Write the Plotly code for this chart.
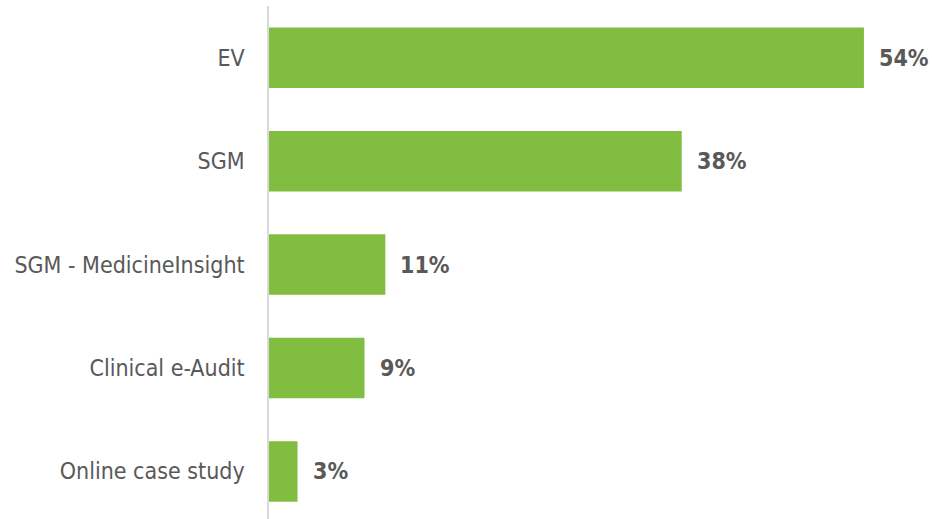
import plotly.graph_objects as go

categories = ["EV", "SGM", "SGM - MedicineInsight", "Clinical e-Audit", "Online case study"]
values = [54.2, 37.6, 10.6, 8.7, 2.6]
labels = [f"{v:.0f}%" for v in values]

COLOR_BAR = "#80BD41"
COLOR_FONT = "#595959"
COLOR_AXIS = "#D9D9D9"
FONT_FAMILY = "DejaVu Sans Condensed, Liberation Sans Narrow, Arial Narrow, sans-serif"
SIZE_TEXT = 23

fig = go.Figure()

fig.add_trace(go.Bar(
    x = values,
    y = categories,
    orientation = "h",
    marker = dict(color=COLOR_BAR, line=dict(width=0)),
    hoverinfo = "skip",
))

# Etiquetas de porcentaje a la derecha de cada barra
for cat, val, lab in zip(categories, values, labels):
    fig.add_annotation(
        x = val,
        y = cat,
        text = f"<b>{lab}</b>",
        xanchor = "left",
        xshift = 13,
        showarrow = False,
        font = dict(family=FONT_FAMILY, size=SIZE_TEXT, color=COLOR_FONT),
    )

fig.update_layout(
    width = 932,
    height = 519,
    bargap = 0.415,
    font = dict(family=FONT_FAMILY, size=SIZE_TEXT, color=COLOR_FONT),
    xaxis = dict(
        range = [0, 60.4],
        showticklabels = False,
        showgrid = False,
        zeroline = False,
        showline = False,
        automargin = False,
    ),
    yaxis = dict(
        categoryorder = "array",
        categoryarray = categories,
        range = [4.46, -0.5],
        showgrid = False,
        showline = True,
        linecolor = COLOR_AXIS,
        linewidth = 1.5,
        ticks = "",
        ticklabelstandoff = 18,
        automargin = False,
        tickfont = dict(family=FONT_FAMILY, size=SIZE_TEXT, color=COLOR_FONT),
    ),
    showlegend = False,
    template = "plotly_white",
    plot_bgcolor = "white",
    paper_bgcolor = "white",
    margin = dict(t=6, l=269, r=0, b=0, autoexpand=False),
)

# quitar el margen por defecto del body para que la figura quede en (0, 0)
fig.write_html(
    "out.html",
    config = {"displayModeBar": False},
    post_script = "document.body.style.margin = '0';",
)
